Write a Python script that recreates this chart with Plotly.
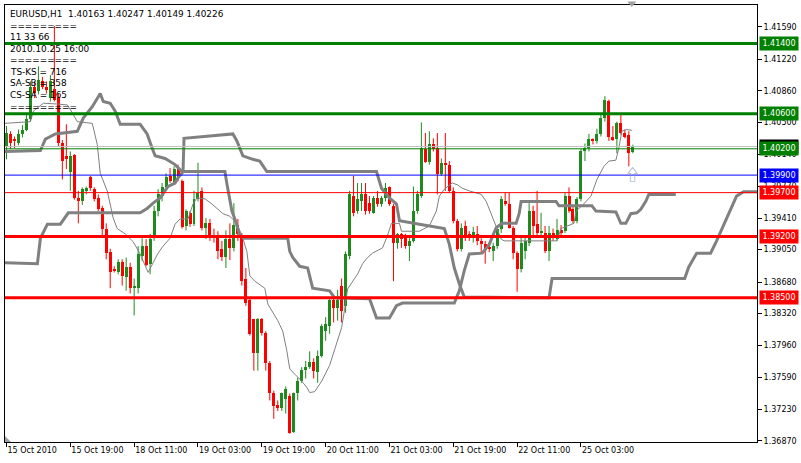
import plotly.graph_objects as go

# ---------------- data (EURUSD H1, bar 0 = 15 Oct 2010 03:00) ----------------
opens = [1.4023,1.4037,1.4031,1.4027,1.4037,1.4042,1.4054,1.4091,1.4086,1.4097,
         1.4090,1.4078,1.4088,1.4079,1.4027,1.4012,1.3994,1.4013,1.3964,1.3960,
         1.3972,1.3988,1.3974,1.3964,1.3952,1.3929,1.3902,1.3883,1.3880,1.3891,
         1.3874,1.3885,1.3861,1.3861,1.3898,1.3909,1.3889,1.3918,1.3949,1.3966,
         1.3976,1.3989,1.3982,1.3998,1.3983,1.3932,1.3947,1.3934,1.3963,1.3972,
         1.3930,1.3935,1.3921,1.3918,1.3906,1.3897,1.3917,1.3907,1.3933,1.3921,
         1.3872,1.3847,1.3826,1.3787,1.3826,1.3810,1.3776,1.3741,1.3728,1.3724,
         1.3735,1.3738,1.3697,1.3741,1.3755,1.3768,1.3771,1.3777,1.3765,1.3784,
         1.3812,1.3818,1.3847,1.3839,1.3864,1.3841,1.3898,1.3966,1.3949,1.3960,
         1.3968,1.3958,1.3947,1.3964,1.3957,1.3964,1.3976,1.3955,1.3913,1.3923,
         1.3918,1.3909,1.3915,1.3949,1.3966,1.4020,1.4005,1.4025,1.4021,1.3991,
         1.4004,1.4002,1.3972,1.3938,1.3906,1.3932,1.3923,1.3918,1.3923,1.3915,
         1.3911,1.3907,1.3903,1.3909,1.3929,1.3960,1.3957,1.3930,1.3901,1.3883,
         1.3903,1.3913,1.3949,1.3934,1.3924,1.3924,1.3903,1.3924,1.3917,1.3927,
         1.3926,1.3966,1.3951,1.3938,1.3963,1.4017,1.4021,1.4031,1.4029,1.4037,
         1.4055,1.4075,1.4033,1.4031,1.4049,1.4038,1.4036,1.40163]
highs = [1.4046,1.4040,1.4034,1.4042,1.4047,1.4061,1.4097,1.4097,1.4114,1.4102,
         1.4097,1.4104,1.4160,1.4083,1.4030,1.4048,1.4017,1.4014,1.3972,1.3976,
         1.3977,1.3989,1.3976,1.3968,1.3955,1.3935,1.3906,1.3886,1.3894,1.3894,
         1.3896,1.3890,1.3872,1.3909,1.3918,1.3917,1.3923,1.3955,1.3974,1.3981,
         1.3992,1.3998,1.4000,1.4002,1.3985,1.3951,1.3949,1.3972,1.4004,1.3976,
         1.3941,1.3940,1.3929,1.3926,1.3915,1.3927,1.3935,1.3958,1.3940,1.3924,
         1.3884,1.3849,1.3826,1.3827,1.3827,1.3812,1.3778,1.3744,1.3733,1.3742,
         1.3749,1.3741,1.3742,1.3759,1.3771,1.3778,1.3789,1.3781,1.3790,1.3820,
         1.3828,1.3849,1.3851,1.3859,1.3872,1.3903,1.3972,1.3989,1.3981,1.3981,
         1.3981,1.3966,1.3966,1.3972,1.3966,1.3981,1.3977,1.3957,1.3924,1.3924,
         1.3923,1.3919,1.3977,1.3972,1.4050,1.4038,1.4040,1.4032,1.4038,1.4009,
         1.4038,1.4006,1.3976,1.3940,1.3935,1.3938,1.3926,1.3931,1.3932,1.3918,
         1.3915,1.3913,1.3913,1.3932,1.3966,1.3970,1.3970,1.3932,1.3903,1.3921,
         1.3921,1.3958,1.3955,1.3972,1.3947,1.3932,1.3932,1.3929,1.3940,1.3933,
         1.3970,1.3976,1.3955,1.3965,1.4020,1.4026,1.4037,1.4032,1.4043,1.4059,
         1.4080,1.4076,1.4046,1.4051,1.4059,1.4042,1.4040,1.40247]
lows = [1.4008,1.4020,1.4021,1.4024,1.4033,1.4040,1.4051,1.4078,1.4082,1.4088,
        1.4083,1.4074,1.4074,1.4023,1.3985,1.3997,1.3972,1.3962,1.3935,1.3956,
        1.3968,1.3972,1.3960,1.3949,1.3921,1.3894,1.3861,1.3879,1.3877,1.3864,
        1.3858,1.3855,1.3830,1.3855,1.3892,1.3886,1.3877,1.3915,1.3943,1.3960,
        1.3974,1.3981,1.3980,1.3983,1.3929,1.3927,1.3931,1.3932,1.3960,1.3927,
        1.3917,1.3915,1.3913,1.3894,1.3892,1.3884,1.3893,1.3903,1.3915,1.3864,
        1.3841,1.3807,1.3767,1.3767,1.3807,1.3767,1.3733,1.3712,1.3721,1.3721,
        1.3718,1.3695,1.3696,1.3733,1.3753,1.3758,1.3769,1.3758,1.3753,1.3782,
        1.3801,1.3809,1.3822,1.3824,1.3822,1.3833,1.3894,1.3943,1.3946,1.3949,
        1.3945,1.3946,1.3946,1.3954,1.3954,1.3960,1.3955,1.3869,1.3906,1.3907,
        1.3906,1.3892,1.3913,1.3946,1.3964,1.4004,1.4002,1.4017,1.3968,1.3989,
        1.3972,1.3970,1.3935,1.3903,1.3903,1.3915,1.3915,1.3913,1.3910,1.3901,
        1.3889,1.3902,1.3892,1.3906,1.3924,1.3955,1.3929,1.3894,1.3857,1.3879,
        1.3894,1.3909,1.3921,1.3921,1.3921,1.3901,1.3892,1.3915,1.3915,1.3919,
        1.3924,1.3947,1.3935,1.3935,1.3960,1.4006,1.4017,1.4025,1.4026,1.4034,
        1.4051,1.4029,1.4029,1.4015,1.4036,1.4032,1.4000,1.40149]
closes = [1.4038,1.4027,1.4029,1.4037,1.4042,1.4054,1.4091,1.4084,1.4099,1.4091,
          1.4088,1.4097,1.4076,1.4027,1.4006,1.4008,1.4012,1.3964,1.3960,1.3974,
          1.3975,1.3975,1.3963,1.3951,1.3929,1.3901,1.3880,1.3881,1.3891,1.3875,
          1.3885,1.3861,1.3864,1.3900,1.3909,1.3888,1.3917,1.3949,1.3968,1.3977,
          1.3988,1.3983,1.3997,1.3987,1.3931,1.3949,1.3934,1.3963,1.3970,1.3930,
          1.3935,1.3921,1.3918,1.3903,1.3897,1.3917,1.3907,1.3933,1.3923,1.3869,
          1.3844,1.3809,1.3787,1.3826,1.3810,1.3776,1.3741,1.3727,1.3724,1.3741,
          1.3746,1.3696,1.3741,1.3755,1.3768,1.3771,1.3777,1.3767,1.3784,1.3818,
          1.3820,1.3847,1.3839,1.3848,1.3835,1.3900,1.3968,1.3947,1.3963,1.3968,
          1.3949,1.3949,1.3964,1.3957,1.3964,1.3975,1.3957,1.3913,1.3923,1.3917,
          1.3909,1.3915,1.3949,1.3968,1.4021,1.4005,1.4025,1.4020,1.3991,1.4004,
          1.4002,1.3972,1.3938,1.3906,1.3930,1.3918,1.3918,1.3925,1.3915,1.3911,
          1.3905,1.3906,1.3909,1.3929,1.3963,1.3957,1.3930,1.3901,1.3883,1.3913,
          1.3915,1.3949,1.3932,1.3924,1.3926,1.3903,1.3924,1.3918,1.3927,1.3925,
          1.3966,1.3949,1.3938,1.3963,1.4017,1.4021,1.4031,1.4029,1.4037,1.4055,
          1.4076,1.4033,1.4031,1.4049,1.4038,1.4034,1.4015,1.40226]

# indicator lines: (bar, price) breakpoints
thin_line = [(-0.4,1.4049),(6,1.4051),(6.75,1.4063),(9.25,1.4072),(13,1.4071),(15.25,1.4070),
    (16.5,1.4061),(17.75,1.4051),(21.5,1.4049),(22.75,1.4025),(23.5,1.3992),(25.25,1.3972),
    (26.75,1.3941),(27.75,1.3929),(29.75,1.3923),(31.75,1.3914),(33.5,1.3900),(34.75,1.3886),
    (35.5,1.3879),(36.75,1.3890),(38,1.3901),(39.25,1.3909),(41,1.3918),(42.25,1.3934),
    (43.5,1.3940),(45.5,1.3940),(46.75,1.3957),(47.75,1.3964),(49.75,1.3963),(51.5,1.3957),
    (53,1.3951),(54.25,1.3946),(56,1.3943),(57.75,1.3935),(59.25,1.3918),(60.25,1.3903),
    (61,1.3875),(62.25,1.3869),(64.75,1.3861),(65.5,1.3843),(68,1.3824),(69.25,1.3812),
    (70.25,1.3790),(71,1.3769),(72.25,1.3763),(74,1.3755),(75.25,1.3748),(76,1.3742),
    (77.25,1.3743),(79,1.3755),(81,1.3773),(82.75,1.3798),(84,1.3816),(84.75,1.3837),
    (85.5,1.3860),(86.5,1.3867),(88,1.3877),(89.25,1.3889),(90.5,1.3896),(91.75,1.3901),
    (94.25,1.3907),(95.5,1.3921),(96.5,1.3935),(98.5,1.3935),(99,1.3926),(103.5,1.3926),
    (106,1.3932),(107.75,1.3949),(108.5,1.3966),(109.75,1.3974),(111.75,1.3981),(113,1.3979),
    (114.25,1.3975),(116,1.3972),(117.75,1.3970),(119,1.3968),(120.25,1.3960),(121.5,1.3946),
    (122.75,1.3932),(124,1.3917),(124.75,1.3915),(138,1.3915),(139,1.3929),(142.25,1.3935),
    (142.75,1.3949),(144.25,1.3955),(146.5,1.3966),(148,1.3985),(149.75,1.4000),(151,1.4006),
    (152.75,1.4007),(153.5,1.4021),(154.25,1.4040),(155.5,1.4042),(156.75,1.4041)]

thick_line_1 = [(-0.4,1.3890),(7.75,1.3889),(8.5,1.3918),(10.25,1.3934),(13.5,1.3934),
    (15.5,1.3947),(33.5,1.3947),(35.25,1.3952),(36.75,1.3958),(38.5,1.3964),(40.5,1.3977),
    (42.25,1.3981),(43,1.3987),(44.25,1.3994),(44.5,1.4032),(56.75,1.4037),(57.75,1.4029),
    (59.25,1.4012),(61.75,1.4008),(63.5,1.4006),(65.25,1.3994),(92.75,1.3994),(94,1.3975),
    (96,1.3964),(97.75,1.3957),(98.5,1.3938),(103.5,1.3934),(109.75,1.3929),(111,1.3911),
    (112.25,1.3884),(113.5,1.3866),(114.75,1.3851),(136,1.3850),(136.75,1.3872),(170,1.3872),
    (171,1.3885),(173,1.3901),(176.5,1.3901),(178,1.3915),(181,1.3946),(183,1.3966),
    (184.75,1.3971),(188.5,1.3971)]

thick_line_2 = [(-0.4,1.4017),(8.5,1.4018),(9.75,1.4031),(12.25,1.4037),(17.75,1.4040),
    (18.5,1.4048),(19.25,1.4055),(21.5,1.4068),(23.5,1.4083),(24.25,1.4074),(26,1.4072),
    (27.25,1.4063),(28.5,1.4048),(33.5,1.4048),(35.25,1.4037),(36.5,1.4021),(37.25,1.4012),
    (39.75,1.4009),(42.25,1.4002),(44,1.3994),(54.75,1.3994),(55.25,1.3980),(56.5,1.3949),
    (57.25,1.3940),(58.5,1.3921),(59.75,1.3918),(70.5,1.3918),(71,1.3903),(71.75,1.3896),
    (73.5,1.3886),(75.5,1.3884),(76.75,1.3861),(81,1.3858),(82.25,1.3850),(91,1.3849),
    (92.75,1.3827),(96,1.3827),(97.75,1.3841),(99.25,1.3844),(112.25,1.3844),(113.5,1.3858),
    (114.75,1.3881),(116,1.3900),(119.25,1.3901),(121,1.3911),(122.75,1.3930),(124.25,1.3935),
    (127.75,1.3935),(128.5,1.3946),(129,1.3960),(137.75,1.3960),(138.5,1.3955),(146.75,1.3955),
    (147.75,1.3949),(152.75,1.3948),(154,1.3935),(155.25,1.3935),(156.5,1.3946),(158,1.3947),
    (159,1.3951),(160.25,1.3960),(161,1.3968),(167.75,1.3968)]

levels = [1.41400, 1.40600, 1.40200, 1.39900, 1.39700, 1.39200, 1.38500]
level_colors = ["#008000", "#008000", "#008000", "#0000FF", "#FF0000", "#FF0000", "#FF0000"]
level_widths = [3, 3, 1, 1, 1, 3, 3]
bid_price = 1.40226

price_ticks = [1.41590, 1.41220, 1.40860, 1.40500, 1.40140, 1.39770, 1.39410,
               1.39050, 1.38680, 1.38320, 1.37960, 1.37590, 1.37230, 1.36870]
time_tick_bars = [0, 16, 32, 48, 64, 80, 96, 112, 128, 144]
time_tick_labels = ["15 Oct 2010", "15 Oct 19:00", "18 Oct 11:00", "19 Oct 03:00",
                    "19 Oct 19:00", "20 Oct 11:00", "21 Oct 03:00", "21 Oct 19:00",
                    "22 Oct 11:00", "25 Oct 03:00"]

info_lines = ["EURUSD,H1\u00a0\u00a01.40163 1.40247 1.40149 1.40226", "=========", "11 33 66",
              "2010.10.25 16:00", "=========", "TS-KS = 716", "SA-SB = 358",
              "CS-SA = 165", "========="]
signal_bar, signal_price = 157, 1.39915

# ---------------- figure ----------------
UP, DN = "#1F8A1F", "#FF0000"
FONT = "DejaVu Sans"
W, H = 801, 463
ML, MR, MT, MB = 5, 42, 4, 21
PW, PH = W - ML - MR, H - MT - MB


def px_x(px):
    return (px - ML) / PW


def px_y(py):
    return (PH + MT - py) / PH


fig = go.Figure()
bars = list(range(len(opens)))
for is_up, col in ((True, UP), (False, DN)):
    idx = [i for i in bars if (closes[i] >= opens[i]) == is_up]
    wx, wy = [], []
    for i in idx:
        wx += [i, i, None]
        wy += [lows[i], highs[i], None]
    fig.add_trace(go.Scatter(x=wx, y=wy, mode="lines", line=dict(color=col, width=1),
                             hoverinfo="skip", showlegend=False))
    fig.add_trace(go.Bar(x=idx, base=[min(opens[i], closes[i]) for i in idx],
                         y=[max(abs(closes[i] - opens[i]), 0.00012) for i in idx],
                         width=0.75, marker=dict(color=col, line=dict(width=0)),
                         hoverinfo="skip", showlegend=False))

for pts, w in ((thick_line_1, 3), (thick_line_2, 3), (thin_line, 1)):
    fig.add_trace(go.Scatter(x=[p[0] for p in pts], y=[p[1] for p in pts], mode="lines",
                             line=dict(color="#808080", width=w), hoverinfo="skip",
                             showlegend=False))

shapes = []
shapes.append(dict(type="line", xref="paper", x0=0, x1=1, yref="y", y0=bid_price, y1=bid_price,
                   line=dict(color="#C0C0C0", width=1), layer="above"))
for lv, c, w in zip(levels, level_colors, level_widths):
    shapes.append(dict(type="line", xref="paper", x0=0, x1=1, yref="y", y0=lv, y1=lv,
                       line=dict(color=c, width=w), layer="above"))
# chart-shift marker (top) and scroll marker (bottom-left)
shapes.append(dict(type="path", xref="paper", yref="paper",
                   path=f"M {px_x(629)},{px_y(0.5)} L {px_x(638)},{px_y(0.5)} L {px_x(633.5)},{px_y(6)} Z",
                   fillcolor="#A0A0A0", line=dict(width=0), layer="above"))
shapes.append(dict(type="path", xref="paper", yref="paper",
                   path=f"M {px_x(5)},{px_y(436)} L {px_x(5)},{px_y(442)} L {px_x(11)},{px_y(442)} Z",
                   fillcolor="#A0A0A0", line=dict(width=0), layer="above"))

annotations = []
for k, t in enumerate(info_lines):
    py = 13 + 11.6 * k
    annotations.append(dict(text=t, xref="paper", yref="paper", x=px_x(9), y=px_y(py),
                            xanchor="left", yanchor="middle", showarrow=False,
                            font=dict(family=FONT, size=8.9, color="black"), borderpad=0))
annotations.append(dict(text=f"{bid_price:.5f}", xref="paper", x=1, xshift=2, xanchor="left",
                        yref="y", y=bid_price, yanchor="middle", showarrow=False, bgcolor="black",
                        font=dict(family=FONT, size=8, color="white"), width=36, height=11,
                        borderpad=1))
for lv, c in zip(levels, level_colors):
    annotations.append(dict(text=f"{lv:.5f}", xref="paper", x=1, xshift=2, xanchor="left",
                            yref="y", y=lv, yanchor="middle", showarrow=False, bgcolor=c,
                            font=dict(family=FONT, size=8, color="white"), width=36, height=11,
                            borderpad=1))
annotations.append(dict(text="\u21e7", x=signal_bar, y=signal_price, xref="x", yref="y",
                        showarrow=False, font=dict(family="Noto Sans CJK SC", size=15,
                                                   color="#8C9CC4")))

fig.update_layout(
    width=W, height=H, margin=dict(l=ML, r=MR, t=MT, b=MB, pad=0),
    paper_bgcolor="white", plot_bgcolor="white", barmode="overlay", bargap=0,
    showlegend=False, shapes=shapes, annotations=annotations,
    font=dict(family=FONT, size=8, color="black"),
    xaxis=dict(range=[-0.375, -0.375 + PW / 4.0], showgrid=False, zeroline=False,
               showline=True, linecolor="black", linewidth=1, mirror=True,
               ticks="outside", ticklen=4, tickcolor="black", tickwidth=1,
               tickvals=time_tick_bars, ticktext=time_tick_labels,
               ticklabelposition="outside right",
               tickfont=dict(family=FONT, size=8, color="black"), fixedrange=True),
    yaxis=dict(range=[1.36856, 1.41840], side="right", showgrid=False, zeroline=False,
               showline=True, linecolor="black", linewidth=1, mirror=True,
               ticks="outside", ticklen=4, tickcolor="black", tickwidth=1,
               tickvals=price_ticks, ticktext=[f"{p:.5f}" for p in price_ticks],
               tickfont=dict(family=FONT, size=8, color="black"), fixedrange=True),
)

fig.write_html("out.html", config={"displayModeBar": False},
               post_script="document.body.style.margin='0';document.body.style.padding='0';")
